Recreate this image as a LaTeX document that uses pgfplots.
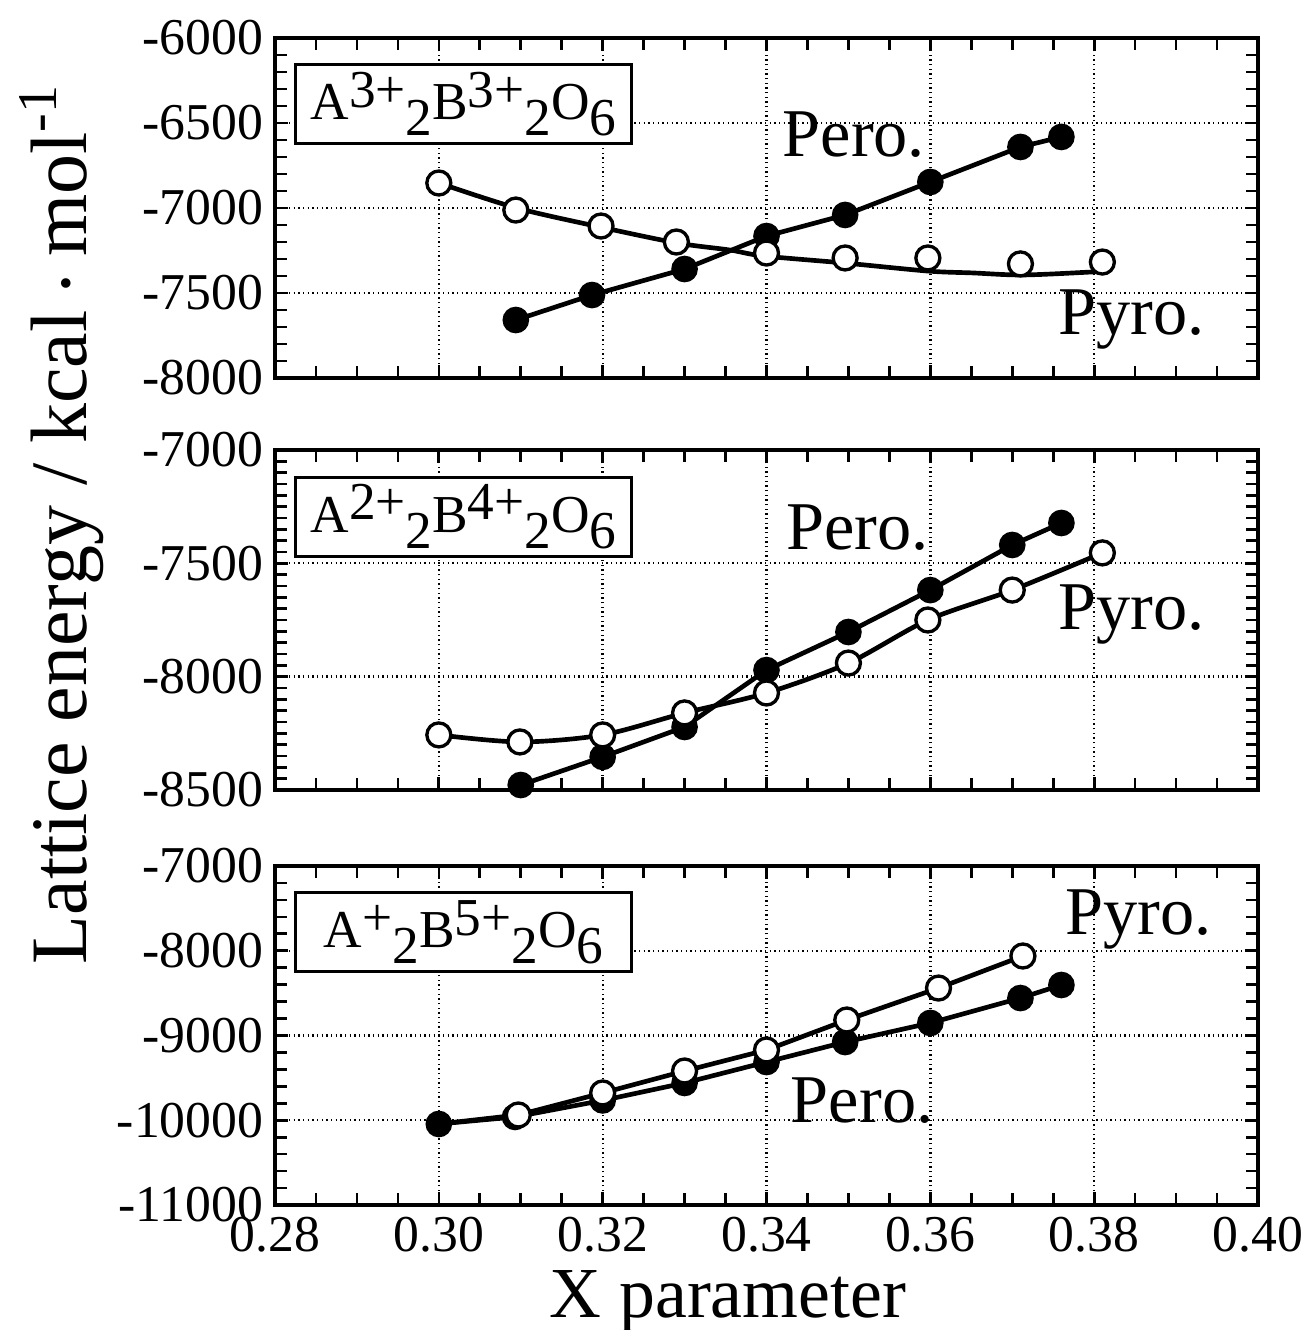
\documentclass[border=0pt]{standalone}
\usepackage{pgfplots}
\pgfplotsset{compat=1.18}
\usepackage{fontspec}
\setmainfont{Liberation Serif}
\setsansfont{Liberation Serif}
\newfontfamily\tms{Liberation Serif}

\newcommand{\sps}[1]{\raisebox{3.8pt}{#1}}
\newcommand{\sbs}[1]{\raisebox{-4.8pt}{#1}}

\tikzset{
  lbl/.style={anchor=base west, inner sep=0pt},
  formula/.style={draw, line width=0.9pt, fill=white, minimum width=101pt, minimum height=23.7pt, inner sep=0pt},
}
\pgfplotsset{
  panel/.style={
    scale only axis, width=294.9pt, height=102pt,
    anchor=south west,
    xmin=0.28, xmax=0.40,
    xtick={0.28,0.30,0.32,0.34,0.36,0.38,0.40},
    minor x tick num=3,
    xtick pos=both, ytick pos=both,
    tick align=inside,
    grid=major,
    major grid style={densely dotted, black, line width=0.7pt},
    axis line style={line width=1pt},
    major tick length=4pt, minor tick length=3.5pt,
    every tick/.style={black, line width=0.8pt},
    tick label style={font=\rmfamily\tms\fontsize{15.5}{16}\selectfont},
    /pgf/number format/assume math mode=true,
    xticklabel style={/pgf/number format/.cd, fixed, fixed zerofill, precision=2},
    yticklabel style={/pgf/number format/.cd, fixed, 1000 sep={}},
    scaled ticks=false,
    every axis plot/.append style={line width=1.4pt, black},
    clip=false,
  },
  pero/.style={mark=*, mark size=3.6pt, mark options={fill=black, line width=0.8pt}},
  pyro/.style={mark=*, mark size=3.6pt, mark options={fill=white, draw=black, line width=1pt}},
}

\newcommand{\lblfont}{\tms\fontsize{20.5}{21}\selectfont}
\newcommand{\frmfont}{\tms\fontsize{16}{16}\selectfont}

\begin{document}
\begin{tikzpicture}
\useasboundingbox (0,0) rectangle (390.3pt,399pt);

% ---------- panel 1 ----------
\begin{axis}[panel, at={(82.5pt,285.6pt)},
  ymin=-8000, ymax=-6000, ytick={-8000,-7500,-7000,-6500,-6000}, minor y tick num=4,
  xticklabels={}]
\addplot[pero] coordinates {
 (0.3094,-7659) (0.3187,-7512) (0.330,-7359) (0.340,-7165) (0.3496,-7041)
 (0.360,-6847) (0.371,-6641) (0.376,-6582)};
\addplot[smooth, no marks] coordinates {
 (0.300,-6853) (0.3095,-7000) (0.3197,-7112) (0.3291,-7206) (0.3355,-7247)
 (0.3396,-7282) (0.3496,-7324) (0.3597,-7371) (0.3652,-7382) (0.3713,-7394)
 (0.3799,-7376) (0.3811,-7371)};
\addplot[pyro, only marks] coordinates {
 (0.300,-6853) (0.3094,-7012) (0.3198,-7106) (0.329,-7200) (0.340,-7265)
 (0.3496,-7294) (0.3597,-7294) (0.371,-7329) (0.381,-7318)};
\node[formula] at (rel axis cs:0.1918,0.806) {\frmfont A\sps{3+}\sbs{2}B\sps{3+}\sbs{2}O\sbs{6}};
\node[lbl] at (axis cs:0.3419,-6700) {\lblfont Pero.};
\node[lbl] at (axis cs:0.3756,-7747) {\lblfont Pyro.};
\end{axis}

% ---------- panel 2 ----------
\begin{axis}[panel, at={(82.5pt,162pt)},
  ymin=-8500, ymax=-7000, ytick={-8500,-8000,-7500,-7000}, minor y tick num=9,
  xticklabels={}]
\addplot[pero] coordinates {
 (0.310,-8478) (0.320,-8354) (0.330,-8222) (0.340,-7971) (0.350,-7803)
 (0.360,-7618) (0.370,-7419) (0.376,-7322)};
\addplot[pyro, smooth] coordinates {
 (0.300,-8257) (0.3099,-8288) (0.320,-8257) (0.330,-8160) (0.340,-8072)
 (0.350,-7940) (0.3597,-7750) (0.370,-7618) (0.381,-7454)};
\node[formula] at (rel axis cs:0.1918,0.804) {\frmfont A\sps{2+}\sbs{2}B\sps{4+}\sbs{2}O\sbs{6}};
\node[lbl] at (axis cs:0.3423,-7441) {\lblfont Pero.};
\node[lbl] at (axis cs:0.3756,-7794) {\lblfont Pyro.};
\node[rotate=90, inner sep=0pt] at (rel axis cs:-0.2172,0.783)
  {\scalebox{1.2}{\tms\fontsize{20}{20}\selectfont Lattice energy / kcal \raisebox{1.7pt}{\fontsize{10}{10}\selectfont •} mol\textsuperscript{-1}}};
\end{axis}

% ---------- panel 3 ----------
\begin{axis}[panel, at={(82.5pt,37.5pt)}, height=101.7pt,
  ymin=-11000, ymax=-7000, ytick={-11000,-10000,-9000,-8000,-7000}, minor y tick num=4]
\addplot[pero] coordinates {
 (0.300,-10044) (0.3093,-9961) (0.320,-9766) (0.330,-9560) (0.340,-9313)
 (0.3496,-9077) (0.360,-8852) (0.371,-8558) (0.376,-8404)};
\addplot[pyro, mark indices={2,3,4,5,6,7,8}] coordinates {
 (0.300,-10044) (0.3097,-9938) (0.320,-9678) (0.330,-9419) (0.340,-9171)
 (0.3498,-8817) (0.361,-8440) (0.3713,-8062)};
\node[formula] at (rel axis cs:0.1918,0.804) {\frmfont A\sps{+}\sbs{2}B\sps{5+}\sbs{2}O\sbs{6}};
\node[lbl] at (axis cs:0.3764,-7814) {\lblfont Pyro.};
\node[lbl] at (axis cs:0.3429,-10021) {\lblfont Pero.};
\node[anchor=base, inner sep=0pt] at (rel axis cs:0.4608,-0.333)
  {\scalebox{1.05}{\tms\fontsize{20.5}{21}\selectfont X parameter}};
\end{axis}
\end{tikzpicture}
\end{document}
